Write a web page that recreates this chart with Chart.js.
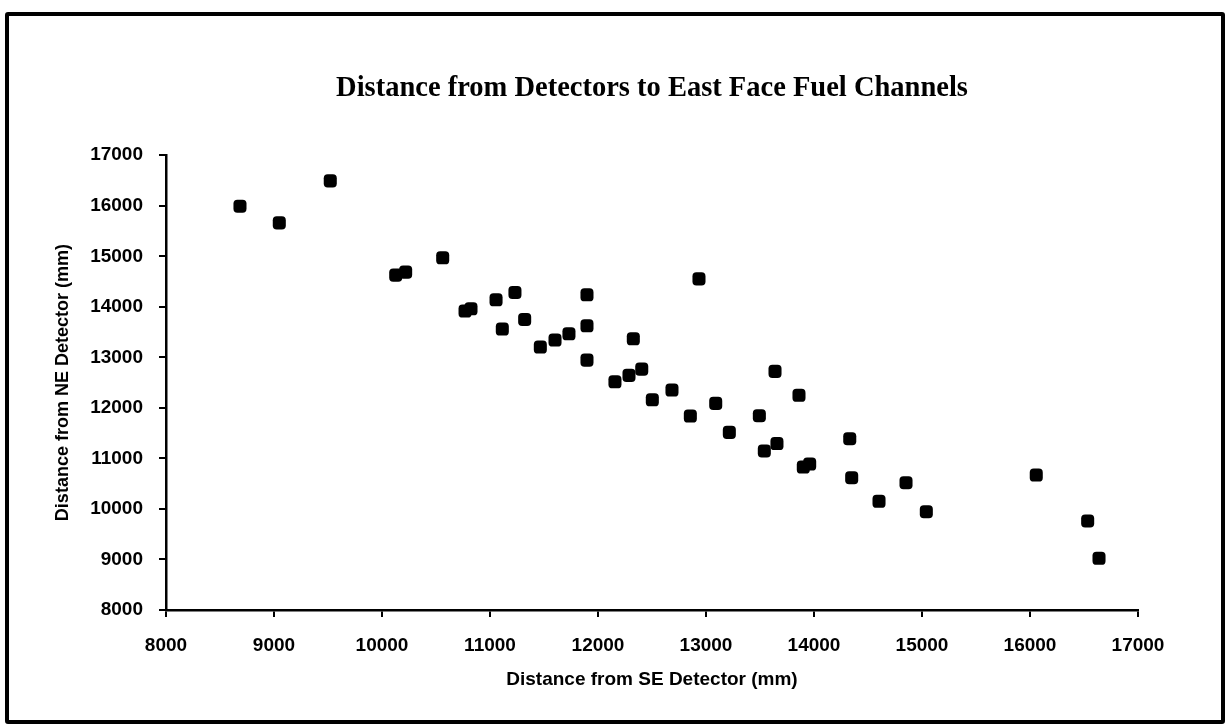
<!DOCTYPE html>
<html>
<head>
<meta charset="utf-8">
<script src="https://cdn.jsdelivr.net/npm/chart.js@4"></script>
<style>
  html, body { margin: 0; padding: 0; background: #fff; }
  #wrap { position: relative; width: 1226px; height: 725px; }
  #frame { position: absolute; left: 5px; top: 12px; width: 1212px; height: 704px; border: 4px solid #000; border-radius: 3px; pointer-events: none; }
</style>
</head>
<body>
<div id="wrap">
  <canvas id="chart" width="1226" height="725"></canvas>
  <div id="frame"></div>
</div>
<script>
// Distance from SE detector (x) and NE detector (y), mm
const seDistance = [
  8685, 9049, 9521, 10127, 10219, 10562, 10769, 10824, 11056, 11114,
  11231, 11321, 11466, 11602, 11731, 11898, 11898, 11898, 12157, 12287,
  12327, 12405, 12503, 12685, 12855, 12935, 13090, 13216, 13494, 13540,
  13639, 13657, 13861, 13901, 13960, 14331, 14349, 14602, 14852, 15040,
  16058, 16534, 16639
];
const neDistance = [
  15991, 15661, 16492, 14627, 14686, 14969, 13915, 13960, 14138, 13559,
  14284, 13750, 13203, 13341, 13466, 14237, 13624, 12945, 12516, 12643,
  13367, 12767, 12160, 12352, 11838, 14553, 12089, 11515, 11844, 11146,
  12722, 11294, 12249, 10829, 10888, 11389, 10618, 10151, 10519, 9945,
  10671, 9761, 9023
];
const xTicks = [8000, 9000, 10000, 11000, 12000, 13000, 14000, 15000, 16000, 17000];
const yTicks = [8000, 9000, 10000, 11000, 12000, 13000, 14000, 15000, 16000, 17000];

const points = seDistance.map((x, i) => ({ x: x, y: neDistance[i] }));

const tickFont = { family: 'Liberation Sans', size: 19, weight: 'bold' };

new Chart(document.getElementById('chart'), {
  type: 'scatter',
  data: {
    datasets: [{
      label: 'Fuel channels',
      data: points,
      pointStyle: 'rectRounded',
      pointRadius: 7.6,
      pointHoverRadius: 7.6,
      backgroundColor: '#000',
      borderColor: '#000',
      borderWidth: 0
    }]
  },
  options: {
    responsive: false,
    animation: false,
    layout: { padding: { left: 36, right: 88, top: 0, bottom: 30 } },
    plugins: {
      legend: { display: false },
      tooltip: { enabled: false },
      title: {
        display: true,
        fullSize: false,
        text: 'Distance from Detectors to East Face Fuel Channels',
        color: '#000',
        font: { family: 'Liberation Serif', size: 28.5, weight: 'bold' },
        padding: { top: 72, bottom: 49 }
      }
    },
    scales: {
      x: {
        type: 'linear',
        min: 8000,
        max: 17000,
        afterBuildTicks: s => { s.ticks = xTicks.map(v => ({ value: v })); },
        afterFit: s => { s.height = 85; },
        border: { color: '#000', width: 2.5 },
        grid: { drawOnChartArea: false, color: '#000', tickLength: 7, lineWidth: 2 },
        ticks: { color: '#000', font: tickFont, padding: 17, maxRotation: 0, callback: v => String(v) },
        title: {
          display: true,
          text: 'Distance from SE Detector (mm)',
          color: '#000',
          font: { family: 'Liberation Sans', size: 19, weight: 'bold' },
          padding: { top: 4, bottom: 4 }
        }
      },
      y: {
        type: 'linear',
        min: 8000,
        max: 17000,
        afterBuildTicks: s => { s.ticks = yTicks.map(v => ({ value: v })); },
        afterFit: s => { s.width = 130; },
        border: { color: '#000', width: 2.5 },
        grid: { drawOnChartArea: false, color: '#000', tickLength: 7, lineWidth: 2 },
        ticks: { color: '#000', font: tickFont, padding: 16, callback: v => String(v) },
        title: {
          display: true,
          text: 'Distance from NE Detector (mm)',
          color: '#000',
          font: { family: 'Liberation Sans', size: 18, weight: 'bold' },
          padding: { top: 16, bottom: 4 }
        }
      }
    }
  }
});
</script>
</body>
</html>
